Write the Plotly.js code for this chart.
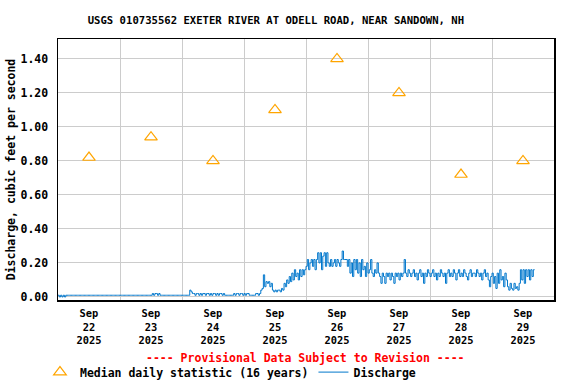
<!DOCTYPE html>
<html>
<head>
<meta charset="utf-8">
<script src="https://cdn.plot.ly/plotly-3.0.1.min.js"></script>
<style>html,body{margin:0;padding:0;background:#fff;}#chart{width:576px;height:384px;}</style>
</head>
<body>
<div id="chart"></div>
<script>
// ---- Data ----
const chartTitle = "USGS 010735562 EXETER RIVER AT ODELL ROAD, NEAR SANDOWN, NH";
const yAxisTitle = "Discharge, cubic feet per second";
const provisionalNote = "---- Provisional Data Subject to Revision ----";

const medianDates = ["2025-09-22 12:00","2025-09-23 12:00","2025-09-24 12:00","2025-09-25 12:00",
                     "2025-09-26 12:00","2025-09-27 12:00","2025-09-28 12:00","2025-09-29 12:00"];
const medianValues = [0.82, 0.94, 0.80, 1.10, 1.40, 1.20, 0.72, 0.80];

const dischargeStart = "2025-09-22T00:00:00";
const dischargeStepMinutes = 30;
// half-hourly discharge readings, one array per day
const dischargeSep22 = [0.01,0.00,0.01,0.00,0.01,0.00,0.01,0.01,
  0.01,0.01,0.01,0.01,0.01,0.01,0.01,0.01,0.01,0.01,0.01,0.01,0.01,0.01,0.01,0.01,0.01,0.01,0.01,0.01,
  0.01,0.01,0.01,0.01,0.01,0.01,0.01,0.01,0.01,0.01,0.01,0.01,0.01,0.01,0.01,0.01,0.01,0.01,0.01,0.01];
const dischargeSep23 = [0.01,0.01,0.01,0.01,0.01,0.01,0.01,0.01,0.01,0.01,0.01,0.01,0.01,0.01,0.01,0.01,
  0.01,0.01,0.01,0.01,0.01,0.01,0.01,0.01,0.01,0.02,0.01,0.02,0.02,0.01,0.02,
  0.01,0.01,0.01,0.01,0.01,0.01,0.01,0.01,0.01,0.01,0.01,0.01,0.01,0.01,0.01,0.01,0.01];
const dischargeSep24 = [0.01,0.01,0.01,0.01,0.01,0.01,0.04,0.03,
  0.02,0.02,0.01,0.02,0.02,0.01,0.02,0.01,0.02,0.02,0.01,0.02,0.02,0.01,0.02,0.01,0.02,0.02,0.01,0.02,0.01,0.02,0.02,0.01,0.02,0.01,
  0.01,0.01,0.01,0.01,0.01,0.01,
  0.02,0.01,0.02,0.02,0.01,0.02,0.02,0.01];
const dischargeSep25 = [0.02,0.01,0.02,0.02,0.01,0.01,0.01,0.01,0.01,0.02,0.02,0.01,0.02,
  0.04,0.05,0.13,0.06,0.09,0.08,0.09,0.06,0.08,0.04,0.03,0.04,0.03,0.04,0.04,0.03,0.05,0.04,
  0.08,0.06,0.10,0.08,0.12,0.09,0.14,0.10,0.16,0.12,0.14,0.10,0.16,0.12,0.16,0.13,0.16];
const dischargeSep26 = [0.18,0.22,0.16,0.20,0.22,0.18,0.22,0.16,0.22,
  0.26,0.20,0.26,0.16,0.24,0.26,0.18,0.26,
  0.20,0.18,0.22,0.18,0.20,0.22,0.18,0.22,0.20,0.18,0.22,
  0.27,0.22,0.22,0.22,
  0.18,0.22,0.14,0.20,0.12,0.22,0.16,0.22,0.14,0.20,0.12,0.22,0.16,0.18,0.12,0.20];
const dischargeSep27 = [0.14,0.16,0.22,0.14,0.12,0.16,0.14,0.20,0.14,0.12,
  0.08,0.14,0.12,0.08,0.14,0.12,0.14,0.10,0.14,0.12,0.08,0.14,0.12,0.14,0.10,0.14,0.12,0.14,
  0.22,
  0.14,0.12,0.16,0.14,0.12,0.14,0.16,0.12,0.14,0.10,0.14,0.16,0.12,0.14,0.08,0.14,0.12,0.16,0.14];
const dischargeSep28 = [0.12,0.14,0.16,0.12,0.14,0.10,0.14,0.12,0.16,0.14,0.12,0.14,0.08,0.14,0.16,
  0.12,0.14,0.12,0.16,0.14,0.10,0.14,0.16,0.12,0.14,0.12,0.16,0.14,0.12,0.10,0.14,0.16,0.12,0.14,
  0.14,0.12,0.16,0.14,0.12,0.14,0.10,0.14,0.16,0.12,0.14,
  0.10,0.06,0.12];
const dischargeSep29 = [0.14,0.08,0.12,0.05,0.14,0.08,0.16,0.10,0.12,0.06,0.14,0.10,
  0.06,0.04,0.08,0.05,0.04,0.08,0.05,0.06,0.04,0.08,
  0.16,0.10,0.16,0.08,0.16,0.12,0.16,0.10,0.16,0.12,0.16,0.16];

const dischargeValues = [].concat(dischargeSep22, dischargeSep23, dischargeSep24, dischargeSep25,
  dischargeSep26, dischargeSep27, dischargeSep28, dischargeSep29);

function pad(n){return (n<10?'0':'')+n;}
const t0 = new Date(dischargeStart + "Z").getTime();
const dischargeTimes = dischargeValues.map((v,i)=>{
  const d = new Date(t0 + i*dischargeStepMinutes*60000);
  return d.getUTCFullYear()+'-'+pad(d.getUTCMonth()+1)+'-'+pad(d.getUTCDate())+' '+pad(d.getUTCHours())+':'+pad(d.getUTCMinutes());
});

const yTickVals = [0,0.2,0.4,0.6,0.8,1.0,1.2,1.4];

// ---- Plot ----
const FONT = "DejaVu Sans Mono";
const traces = [
  {
    x: medianDates, y: medianValues, type: 'scatter', mode: 'markers',
    name: 'Median daily statistic (16 years)',
    marker: {symbol: 'triangle-up-open', size: 11, color: '#FFA500', line: {width: 1.2, color: '#FFA500'}}
  },
  {
    x: dischargeTimes, y: dischargeValues, type: 'scatter', mode: 'lines',
    name: 'Discharge', line: {color: '#0077cc', width: 1, shape: 'hv'}
  }
];

const layout = {
  width: 576, height: 384,
  margin: {l: 58, r: 22, t: 39, b: 84, autoexpand: false},
  paper_bgcolor: '#fff', plot_bgcolor: '#fff',
  font: {family: FONT, size: 11.5, color: '#000', weight: 'bold'},
  title: {text: chartTitle, font: {family: FONT, size: 10.6, color: '#000', weight: 'bold'},
          xref: 'container', yref: 'container', x: 0.479, xanchor: 'center', y: 0.948, yanchor: 'middle'},
  xaxis: {
    type: 'date', range: ['2025-09-22 00:00', '2025-09-30 00:00'], automargin: false,
    tick0: '2025-09-22 00:00', dtick: 86400000, ticklabelmode: 'period',
    tickformat: '%b<br>%d<br>%Y', ticks: '', ticklabelstandoff: 3,
    showgrid: true, gridcolor: '#cccccc', gridwidth: 1,
    showline: true, linecolor: '#000', linewidth: 1.5, mirror: true,
    zeroline: false, fixedrange: true,
    tickfont: {family: FONT, size: 10.4, color: '#000', weight: 'bold'}
  },
  yaxis: {
    range: [-0.018, 1.517], tickvals: yTickVals, tickformat: '.2f', ticks: '', automargin: false,
    ticklabelstandoff: 6,
    showgrid: true, gridcolor: '#cccccc', gridwidth: 1,
    showline: true, linecolor: '#000', linewidth: 1.5, mirror: true,
    zeroline: false,
    tickfont: {family: FONT, size: 11.5, color: '#000', weight: 'bold'},
    title: {text: yAxisTitle, font: {family: FONT, size: 11.5, color: '#000', weight: 'bold'}, standoff: 2}
  },
  showlegend: true,
  legend: {orientation: 'h', xref: 'container', yref: 'container',
           x: 0.0694, xanchor: 'left', y: 0.031, yanchor: 'middle',
           font: {family: FONT, size: 11.5, color: '#000', weight: 'bold'},
           itemwidth: 30, tracegroupgap: 0, bgcolor: 'rgba(0,0,0,0)'},
  annotations: [{
    text: provisionalNote, xref: 'paper', yref: 'paper', x: 0.498, y: -0.222,
    xanchor: 'center', yanchor: 'middle', showarrow: false,
    font: {family: FONT, size: 11.5, color: '#ff0000', weight: 'bold'}
  }]
};

Plotly.newPlot('chart', traces, layout, {displayModeBar: false, staticPlot: true});
</script>
</body>
</html>
